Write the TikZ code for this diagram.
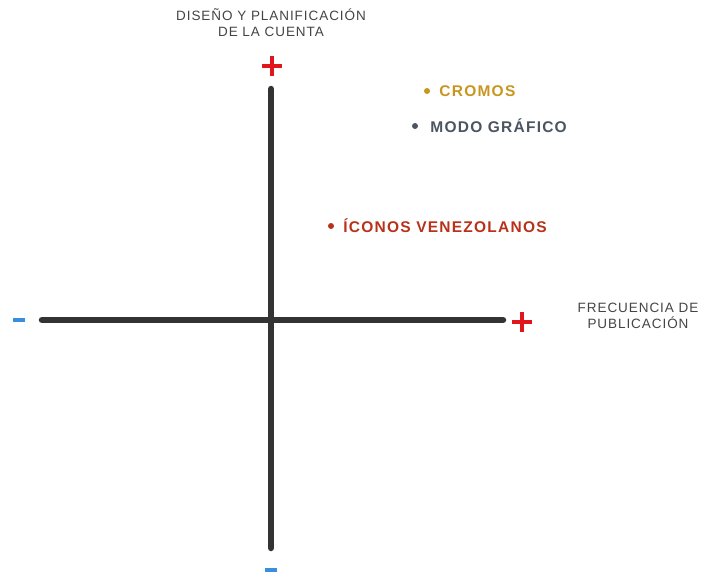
\documentclass[tikz,border=0pt]{standalone}
\usepackage{fontspec}
\setmainfont{Liberation Sans}
\newfontfamily\titlefont[LetterSpace=7]{Liberation Sans}
\newfontfamily\pointfont[LetterSpace=8]{Liberation Sans}
\usepackage{xcolor}
\definecolor{axisgray}{HTML}{333333}
\definecolor{plusred}{HTML}{E0161C}
\definecolor{minusblue}{HTML}{3A8FDC}
\definecolor{titlegray}{HTML}{444444}
\definecolor{cromos}{HTML}{C8961E}
\definecolor{modo}{HTML}{4A5560}
\definecolor{iconos}{HTML}{B8321A}
\usetikzlibrary{positioning}

\tikzset{
  axis/.style={axisgray, line width=6.5pt, line cap=round},
  sign/.style={line width=4.5pt},
  title/.style={titlegray, font=\titlefont\fontsize{13.5}{16}\selectfont, align=center},
  dot/.style={circle, fill, inner sep=0pt, minimum size=6pt},
  point/.style={font=\pointfont\bfseries\fontsize{15.5}{18}\selectfont, anchor=west, inner sep=0pt}
}

\begin{document}
\begin{tikzpicture}[x=1pt, y=-1pt]
    \useasboundingbox (0,0) rectangle (704,573);
    % axes
    \coordinate (top) at (271,89);
    \coordinate (bottom) at (271,548);
    \coordinate (left) at (42,320);
    \coordinate (right) at (503,320);
    \draw[axis] (top)--(bottom);
    \draw[axis] (left)--(right);
    % signs
    \draw[sign, plusred] (262,66)--(282,66) (272,56)--(272,76);
    \draw[sign, plusred] (512,322)--(532,322) (522,312)--(522,332);
    \draw[sign, minusblue] (13,320)--(25,320);
    \draw[sign, minusblue] (265,570)--(277,570);
    % axis titles
    \node[title] (ytitle) at (271,23) {DISEÑO Y PLANIFICACIÓN\\DE LA CUENTA};
    \node[title] (xtitle) at (638,316) {FRECUENCIA DE\\PUBLICACIÓN};
    % accounts
    \node[dot, cromos] (c) at (427,91) {};
    \node[point, cromos, right=9pt of c] (cl) {CROMOS};
    \node[dot, modo] (m) at (415,126) {};
    \node[point, modo, right=12pt of m] (ml) {MODO GRÁFICO};
    \node[dot, iconos] (i) at (331,226) {};
    \node[point, iconos, right=9pt of i] (il) {ÍCONOS VENEZOLANOS};
\end{tikzpicture}
\end{document}
